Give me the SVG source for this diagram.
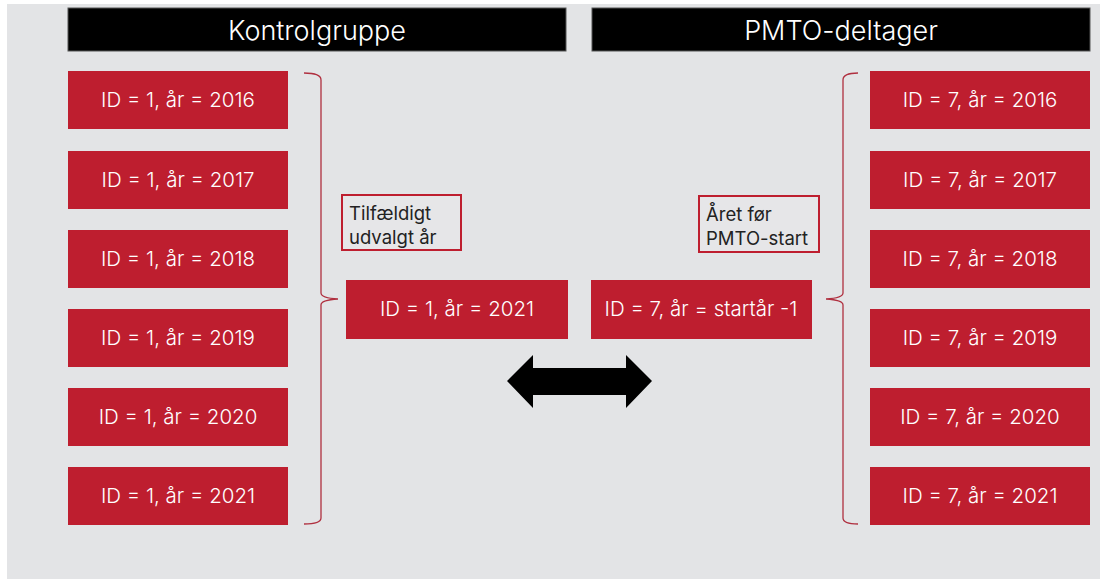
<svg xmlns="http://www.w3.org/2000/svg" width="1100" height="579" viewBox="0 0 1100 579">
<style>
.bg{fill:#e3e4e6}
.hdr{fill:#000;stroke:#555;stroke-width:1}
.hdrt{font-family:Inter,"Liberation Sans",sans-serif;font-size:27px;font-weight:300;fill:#fff;text-anchor:middle}
.box{fill:#be1e2f}
.bt{font-family:Inter,"Liberation Sans",sans-serif;font-size:20.5px;font-weight:300;fill:#fff;text-anchor:middle}
.note{fill:#e6e6e8;stroke:#be1e2f;stroke-width:2}
.nt{font-family:Inter,"Liberation Sans",sans-serif;font-size:18.5px;font-weight:400;fill:#222}
.brace{fill:none;stroke:#b03040;stroke-width:1.3}
</style>
<rect x="0" y="0" width="1100" height="579" fill="#fff"/>
<rect class="bg" x="7" y="4" width="1093" height="575"/>
<g id="header-kontrol"><rect class="hdr" x="68" y="8" width="498" height="43"/><text class="hdrt" x="317" y="40">Kontrolgruppe</text></g>
<g id="header-pmto"><rect class="hdr" x="592" y="8" width="498" height="43"/><text class="hdrt" x="841" y="40">PMTO-deltager</text></g>
<g id="k2016"><rect class="box" x="68" y="71" width="220" height="58"/><text class="bt" x="178" y="107">ID = 1, år = 2016</text></g>
<g id="k2017"><rect class="box" x="68" y="151" width="220" height="58"/><text class="bt" x="178" y="187">ID = 1, år = 2017</text></g>
<g id="k2018"><rect class="box" x="68" y="230" width="220" height="58"/><text class="bt" x="178" y="266">ID = 1, år = 2018</text></g>
<g id="k2019"><rect class="box" x="68" y="309" width="220" height="58"/><text class="bt" x="178" y="345">ID = 1, år = 2019</text></g>
<g id="k2020"><rect class="box" x="68" y="388" width="220" height="58"/><text class="bt" x="178" y="424">ID = 1, år = 2020</text></g>
<g id="k2021"><rect class="box" x="68" y="467" width="220" height="58"/><text class="bt" x="178" y="503">ID = 1, år = 2021</text></g>
<g id="p2016"><rect class="box" x="870" y="71" width="220" height="58"/><text class="bt" x="980" y="107">ID = 7, år = 2016</text></g>
<g id="p2017"><rect class="box" x="870" y="151" width="220" height="58"/><text class="bt" x="980" y="187">ID = 7, år = 2017</text></g>
<g id="p2018"><rect class="box" x="870" y="230" width="220" height="58"/><text class="bt" x="980" y="266">ID = 7, år = 2018</text></g>
<g id="p2019"><rect class="box" x="870" y="309" width="220" height="58"/><text class="bt" x="980" y="345">ID = 7, år = 2019</text></g>
<g id="p2020"><rect class="box" x="870" y="388" width="220" height="58"/><text class="bt" x="980" y="424">ID = 7, år = 2020</text></g>
<g id="p2021"><rect class="box" x="870" y="467" width="220" height="58"/><text class="bt" x="980" y="503">ID = 7, år = 2021</text></g>
<g id="k-selected"><rect class="box" x="346" y="280" width="222" height="59"/><text class="bt" x="457" y="316">ID = 1, år = 2021</text></g>
<g id="p-selected"><rect class="box" x="591" y="280" width="221" height="59"/><text class="bt" x="701" y="316">ID = 7, år = startår -1</text></g>
<g id="note-k"><rect class="note" x="342" y="195" width="119" height="55"/><text class="nt" x="349" y="220">Tilfældigt</text><text class="nt" x="349" y="244">udvalgt år</text></g>
<g id="note-p"><rect class="note" x="699" y="196" width="120" height="56"/><text class="nt" x="706" y="221">Året før</text><text class="nt" x="706" y="245">PMTO-start</text></g>
<g id="connectors">
<path class="brace" d="M304,73 Q321,73 321,80 L321,293 Q321,298 338,299 Q321,300 321,305 L321,518 Q321,524 304,524"/>
<path class="brace" d="M858,73 Q843,73 843,80 L843,293 Q843,298 826,299 Q843,300 843,305 L843,518 Q843,524 858,524"/>
<polygon fill="#000" points="507,381 533,355 533,368 626,368 626,355 652,381 626,408 626,395 533,395 533,408"/>
</g>
</svg>
